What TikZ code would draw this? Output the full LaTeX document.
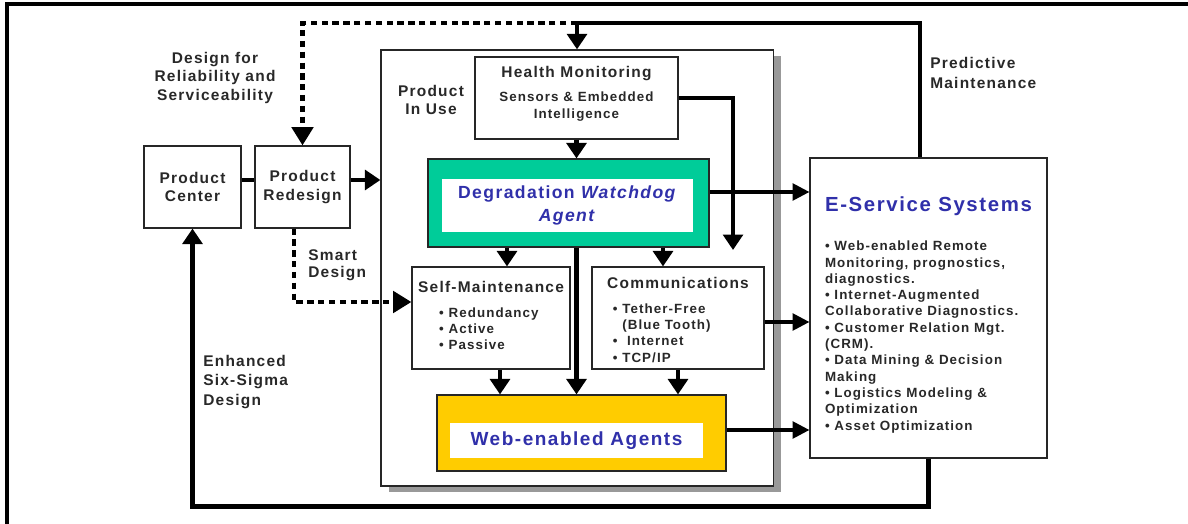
\documentclass[tikz,border=0pt]{standalone}
\usepackage{fontspec}
\setmainfont{Liberation Sans}[LetterSpace=8]
\usepackage{xcolor}
\usetikzlibrary{arrows.meta,shadows}

\definecolor{agentgreen}{RGB}{0,204,153}
\definecolor{agentyellow}{RGB}{255,204,0}
\definecolor{agentblue}{RGB}{48,48,170}
\definecolor{inkgray}{RGB}{40,40,40}

\begin{document}
\begin{tikzpicture}[x=0.025cm, y=-0.025cm, text=inkgray]
    % Styles
    \tikzstyle{box} = [rectangle, draw=black!85, line width=0.8pt, fill=white, inner sep=0pt, align=center, font=\bfseries\fontsize{11}{13}\selectfont]
    \tikzstyle{itembox} = [box, font=\bfseries\fontsize{9.5}{11.6}\selectfont]
    \tikzstyle{greenbox} = [box, fill=agentgreen]
    \tikzstyle{yellowbox} = [box, fill=agentyellow]
    \tikzstyle{inbox} = [rectangle, fill=white, inner sep=0pt, align=center, text=agentblue]
    \tikzstyle{note} = [inner sep=0pt, font=\bfseries\fontsize{11}{13}\selectfont]
    \tikzstyle{thickline} = [line width=3pt]
    \tikzstyle{arrow} = [line width=3pt, -{Triangle[length=11pt,width=14pt]}]
    \tikzstyle{link} = [line width=2.2pt, -{Triangle[length=12pt,width=12pt]}]
    \tikzstyle{dotarrow} = [line width=3.4pt, dash pattern=on 4.5pt off 3.2pt, -{Triangle[length=13pt,width=15pt]}]
    \tikzstyle{frame} = [line width=2.2pt]

    \useasboundingbox (0,0) rectangle (1188,524);
    \draw [frame] (7,524) -- (7,4) -- (1188,4);

    % Nodes
    \node [box, minimum width=2.425cm, minimum height=2.05cm] (prodcenter) at (192.5,187) {Product\\Center};
    \node [box, minimum width=2.375cm, minimum height=2.05cm] (redesign) at (302.5,187) {Product\\Redesign};
    \node [box, minimum width=9.8cm, minimum height=10.9cm, drop shadow={shadow xshift=0.2cm, shadow yshift=-0.15cm, fill=black!40, opacity=1}] (inuse) at (577,268) {};
    \node [itembox, minimum width=5.075cm, minimum height=2.05cm] (health) at (576.5,98)
        {\begin{tabular}{@{}c@{}}{\fontsize{11}{13}\selectfont Health Monitoring}\\[5.5pt]
         Sensors \& Embedded\\[0.5pt] Intelligence\\[5pt]\end{tabular}};
    \node [greenbox, minimum width=7.025cm, minimum height=2.2cm] (watchdog) at (568.5,203) {};
    \node [inbox, minimum width=6.275cm, minimum height=1.325cm, font=\bfseries\fontsize{12.5}{16}\selectfont] (watchdogtext) at (567.5,205.5)
        {Degradation \textit{Watchdog}\\\textit{Agent}};
    \node [itembox, minimum width=3.95cm, minimum height=2.55cm] (selfmaint) at (491,318)
        {\begin{tabular}{@{}l@{}}{\fontsize{11}{13}\selectfont Self-Maintenance}\\[6pt]
         \hspace{15pt}• Redundancy\\ \hspace{15pt}• Active\\ \hspace{15pt}• Passive\end{tabular}};
    \node [itembox, minimum width=4.3cm, minimum height=2.55cm] (comms) at (678,318)
        {\begin{tabular}{@{}l@{}}\rule{0pt}{14pt}{\fontsize{11}{13}\selectfont Communications}\\[6pt]
         \hspace{4pt}• Tether-Free\\ \hspace{4pt}\phantom{• }(Blue Tooth)\\ \hspace{4pt}•\ \ Internet\\ \hspace{4pt}• TCP/IP\end{tabular}};
    \node [yellowbox, minimum width=7.225cm, minimum height=1.9cm] (webagents) at (581.5,433) {};
    \node [inbox, minimum width=6.325cm, minimum height=0.875cm, font=\bfseries\fontsize{13.5}{16}\selectfont] (webtext) at (576.5,440.5) {Web-enabled Agents};
    \node [itembox, minimum width=5.925cm, minimum height=7.5cm] (eservice) at (928.5,308)
        {\begin{tabular}{@{}l@{}}\multicolumn{1}{@{}c@{}}{\rule{0pt}{22pt}\color{agentblue}\fontsize{14.5}{17}\selectfont E-Service Systems}\\[16pt]
         • Web-enabled Remote\\ Monitoring, prognostics,\\ diagnostics.\\
         • Internet-Augmented\\ Collaborative Diagnostics.\\
         • Customer Relation Mgt.\\ (CRM).\\
         • Data Mining \& Decision\\ Making\\
         • Logistics Modeling \&\\ Optimization\\
         • Asset Optimization\end{tabular}};

    % Labels
    \node [note, align=center] (reliability) at (215,78) {Design for\\Reliability and\\Serviceability};
    \node [note, align=center] (inuselabel) at (431,100) {Product\\In Use};
    \node [note, align=left, anchor=west, font=\bfseries\fontsize{11}{12}\selectfont] (smart) at (308,265) {Smart\\Design};
    \node [note, align=left, anchor=west, font=\bfseries\fontsize{11}{14}\selectfont] (sixsigma) at (203,382) {Enhanced\\Six-Sigma\\Design};
    \node [note, align=left, anchor=west, font=\bfseries\fontsize{11}{14}\selectfont] (predictive) at (930,73) {Predictive\\Maintenance};

    \coordinate (top) at (577,23);
    \coordinate (healthend) at (733,250);

    % Arrows
    \draw [thickline] ([yshift=0.175cm]prodcenter.east) -- ([yshift=0.175cm]redesign.west);
    \draw [arrow] ([yshift=0.175cm]redesign.east) -- ([yshift=0.175cm]redesign.east -| inuse.west);
    \draw [arrow] ([xshift=-0.21cm]eservice.north) |- (top) -- (inuse.north);
    \draw [dotarrow] (top) -| (redesign.north);
    \draw [dotarrow] ([xshift=-0.21cm]redesign.south) |- ([yshift=0.4cm]selfmaint.west);
    \draw [arrow] (health.south) -- (health.south |- watchdog.north);
    \draw [arrow] (health.east) -| (healthend);
    \draw [link] ([yshift=0.275cm]watchdog.east) -- ([yshift=0.275cm]watchdog.east -| eservice.west);
    \draw [arrow] ([xshift=0.4cm]selfmaint.north |- watchdog.south) -- ([xshift=0.4cm]selfmaint.north);
    \draw [arrow] ([xshift=-0.375cm]comms.north |- watchdog.south) -- ([xshift=-0.375cm]comms.north);
    \draw [arrow] (health.south |- watchdog.south) -- (health.south |- webagents.north);
    \draw [arrow] ([xshift=0.225cm]selfmaint.south) -- ([xshift=0.225cm]selfmaint.south |- webagents.north);
    \draw [arrow] (comms.south) -- (comms.south |- webagents.north);
    \draw [link] ([yshift=-0.1cm]comms.east) -- ([yshift=-0.1cm]comms.east -| eservice.west);
    \draw [link] ([yshift=0.075cm]webagents.east) -- ([yshift=0.075cm]webagents.east -| eservice.west);
    \draw [arrow] (eservice.south) -- ++(0,48) -| (prodcenter.south);
\end{tikzpicture}
\end{document}
